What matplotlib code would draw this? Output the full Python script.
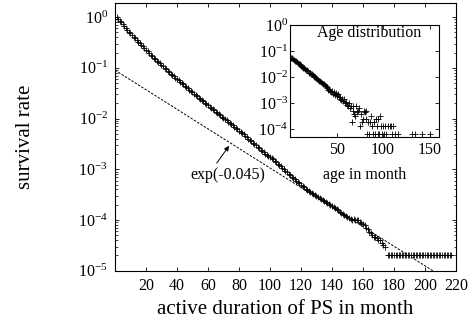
#!/usr/bin/env python3
"""
plot.py - survival rate of PS versus active duration, with the age
distribution as an inset (log y on both).
"""
import numpy as np
import matplotlib as mpl
import matplotlib.pyplot as plt
from matplotlib.ticker import LogLocator, NullFormatter, NullLocator

# main panel: survival rate for months 1..174, then the flat tail
surv_rate = [
    1.00, 0.92, 0.85, 0.79, 0.72, 0.67, 0.62, 0.57, 0.52, 0.48, 0.45, 0.41,
    0.38, 0.355, 0.33, 0.306, 0.284, 0.264, 0.245, 0.228, 0.211, 0.196, 0.182,
    0.169, 0.158,
    0.148, 0.139, 0.130, 0.122, 0.114, 0.107, 0.100, 0.0937, 0.0878, 0.0822,
    0.0769, 0.0721, 0.0676,
    0.0637, 0.0600, 0.0565, 0.0532, 0.0501, 0.0472, 0.0445, 0.0419, 0.0395,
    0.0372, 0.0351, 0.0330, 0.0311, 0.0293, 0.0276, 0.0260, 0.0245, 0.0231,
    0.0218, 0.0205, 0.0193, 0.0182,
    0.0172, 0.0162, 0.0153, 0.0145, 0.0137, 0.0129, 0.0122, 0.0115, 0.0109,
    0.0103, 0.0097, 0.0092, 0.0087, 0.0082, 0.0077, 0.0073, 0.0069, 0.0065,
    0.0062, 0.0058, 0.0055,
    0.00516, 0.00485, 0.00456, 0.00428, 0.00403, 0.00378, 0.00356, 0.00334,
    0.00314, 0.00295, 0.00277, 0.00261, 0.00245, 0.00230, 0.00216, 0.00203,
    0.00191,
    0.00181, 0.00172, 0.00164, 0.00156, 0.00148,
    0.00138, 0.00129, 0.00121, 0.00114, 0.00106, 0.00099, 0.00093, 0.00087,
    0.00082, 0.00077, 0.00072, 0.00068, 0.00064, 0.00060, 0.00056, 0.00053,
    0.00050, 0.00047, 0.00044, 0.00041, 0.00039,
    3.72e-4, 3.56e-4, 3.40e-4, 3.26e-4, 3.11e-4, 2.98e-4, 2.85e-4, 2.72e-4,
    2.61e-4, 2.49e-4, 2.38e-4, 2.28e-4, 2.18e-4, 2.09e-4, 2.00e-4,
    1.90e-4, 1.80e-4, 1.71e-4, 1.62e-4, 1.54e-4, 1.46e-4, 1.39e-4, 1.32e-4,
    1.25e-4, 1.19e-4, 1.13e-4, 1.07e-4,
    1.05e-4, 1.02e-4, 1.05e-4, 1.00e-4, 0.98e-4, 1.00e-4, 0.93e-4, 0.89e-4,
    0.85e-4,
    7.8e-5, 7.1e-5, 6.5e-5, 5.9e-5, 5.5e-5, 5.0e-5, 4.7e-5, 4.7e-5, 4.4e-5,
    4.1e-5, 4.1e-5, 3.5e-5, 3.2e-5, 3.0e-5,
]
tail_months = list(range(176, 218))
tail_rate = [2.0e-5] * len(tail_months)

# fitted exponential, read as two end points of the dashed line
fit_months = [0, 205]
fit_rate = [0.09, 1.0e-5]
fit_label = "exp(-0.045)"

# inset: age distribution
age_months = list(range(1, 41)) + [
    41, 42, 43, 44, 45, 46, 47, 48, 49, 50, 51, 52, 53, 54, 55, 56, 57, 58,
    59, 60, 61, 62, 63, 64, 65, 66, 67, 68, 69, 70, 71, 72, 73, 74, 75, 76,
    77, 78, 79, 80, 81, 82, 83, 84, 85, 86, 87, 88, 89, 90, 91, 92, 93, 94,
    95, 96, 97, 98, 99, 100, 101, 102, 103, 105, 107, 109, 110, 111, 113,
    116, 131, 134, 142, 150,
]
age_freq = [
    0.056, 0.052, 0.049, 0.046, 0.043, 0.040, 0.038, 0.035, 0.033, 0.031,
    0.029, 0.027, 0.025, 0.023, 0.022, 0.020, 0.019, 0.018, 0.017, 0.015,
    0.0145, 0.0135, 0.0127, 0.0118, 0.0110, 0.0104, 0.0097, 0.0091, 0.0085,
    0.0079, 0.0074, 0.0069, 0.0065, 0.0060, 0.0056, 0.0053, 0.0049, 0.0046,
    0.0043, 0.0040,
    3.3e-3, 3.6e-3, 2.9e-3, 2.6e-3, 3.0e-3, 2.3e-3, 2.7e-3, 2.0e-3, 2.4e-3,
    1.9e-3, 2.2e-3, 1.7e-3, 1.5e-3, 1.8e-3, 1.3e-3, 1.5e-3, 1.2e-3, 1.4e-3,
    1.0e-3, 1.15e-3, 8.3e-4, 7.7e-4, 1.0e-3, 6.4e-4, 7.7e-4, 1.92e-4, 5.1e-4,
    7.7e-4, 3.84e-4, 3.2e-4, 7.7e-4, 4.48e-4, 5.12e-4, 6.4e-4, 1.28e-4,
    3.84e-4, 1.92e-4, 2.56e-4, 5.12e-4, 4.48e-4, 2.56e-4, 5.12e-4, 6.4e-5,
    1.92e-4, 6.4e-5, 1.92e-4, 3.2e-4, 1.28e-4, 6.4e-5, 1.92e-4, 6.4e-5,
    2.56e-4, 1.28e-4, 6.4e-5, 2.56e-4, 6.4e-5, 3.2e-4, 1.28e-4, 6.4e-5,
    1.28e-4, 6.4e-5, 1.28e-4, 6.4e-5, 1.28e-4, 1.28e-4, 1.28e-4, 6.4e-5,
    1.28e-4, 6.4e-5, 6.4e-5, 6.4e-5, 6.4e-5, 6.4e-5, 6.4e-5,
]

mpl.rcParams.update({
    "font.family": "serif",
    "font.serif": ["Liberation Serif", "DejaVu Serif"],
    "mathtext.fontset": "custom",
    "mathtext.rm": "Liberation Serif",
    "mathtext.it": "Liberation Serif:italic",
    "font.size": 11.5,
    "axes.linewidth": 0.8,
    "xtick.direction": "in", "ytick.direction": "in",
    "xtick.top": True, "ytick.right": True,
    "xtick.major.size": 3.2, "ytick.major.size": 3.2,
    "xtick.minor.size": 1.8, "ytick.minor.size": 1.8,
    "xtick.major.width": 0.6, "ytick.major.width": 0.6,
    "ytick.minor.width": 0.5,
})


def main_panel(ax):
    months = np.arange(1, len(surv_rate) + 1)
    ax.plot(months, surv_rate, ls="none", marker="+", ms=4, mew=0.6, color="black")
    ax.plot(tail_months, tail_rate, ls="none", marker="+", ms=4, mew=0.6, color="black")
    ax.plot(fit_months, fit_rate, color="black", lw=0.7, dashes=(2.5, 1.5))
    ax.annotate(fit_label, xy=(73.6, 2.9e-3), xytext=(73, 7.7e-4),
                ha="center", va="center",
                arrowprops=dict(arrowstyle="-|>", lw=0.7, color="black",
                                mutation_scale=7, relpos=(0.31, 1.0),
                                shrinkA=1, shrinkB=0))
    ax.set_yscale("log")
    ax.set_xlim(0, 220)
    ax.set_ylim(1e-5, 1.9)
    ax.set_xticks(range(20, 221, 20))
    ax.yaxis.set_major_locator(LogLocator(base=10, numticks=10))
    ax.yaxis.set_minor_locator(LogLocator(base=10, subs=np.arange(2, 10), numticks=10))
    ax.yaxis.set_minor_formatter(NullFormatter())
    ax.tick_params(axis="x", pad=5)
    ax.tick_params(axis="y", which="both", pad=5)
    ax.set_xlabel("active duration of PS in month", fontsize=15)
    ax.set_ylabel("survival rate", fontsize=15)
    ax.xaxis.set_label_coords(0.5, -0.11)
    ax.yaxis.set_label_coords(-0.235, 0.5)


def inset_panel(ax):
    ax.plot(age_months, age_freq, ls="none", marker="+", ms=4, mew=0.6, color="black")
    ax.set_yscale("log")
    ax.set_xlim(0, 160)
    ax.set_ylim(5.2e-5, 1.0)
    ax.set_xticks([50, 100, 150])
    ax.yaxis.set_major_locator(LogLocator(base=10, numticks=10))
    ax.yaxis.set_minor_locator(NullLocator())
    ax.tick_params(axis="x", pad=4)
    ax.tick_params(axis="y", pad=1.5)
    ax.set_xlabel("age in month", fontsize=11.5)
    ax.xaxis.set_label_coords(0.5, -0.27)
    ax.text(0.533, 0.93, "Age distribution", transform=ax.transAxes,
            ha="center", va="center", fontsize=11.5)


def main():
    fig = plt.figure(figsize=(4.74, 3.29), dpi=100)
    ax = fig.add_axes([0.2426, 0.1772, 0.7194, 0.8137])
    main_panel(ax)
    ax_in = fig.add_axes([0.6125, 0.5845, 0.3133, 0.3395])
    inset_panel(ax_in)
    fig.savefig("out.png", dpi=100)
    plt.close(fig)


if __name__ == "__main__":
    main()
